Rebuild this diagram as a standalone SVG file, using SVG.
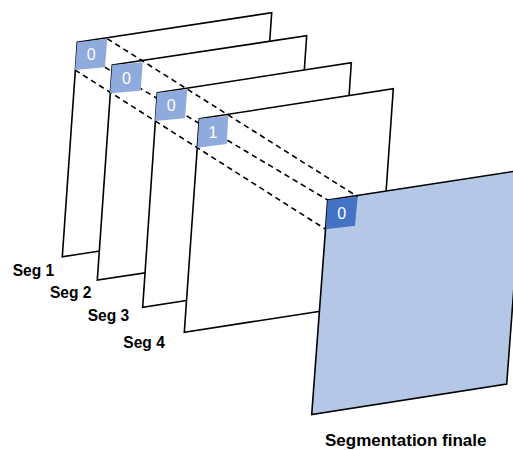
<svg xmlns="http://www.w3.org/2000/svg" width="513" height="450" viewBox="0 0 513 450">
<style>
.plane{fill:#ffffff;stroke:#000000;stroke-width:1.6;stroke-linejoin:miter}
.final{fill:#b4c7e7;stroke:#000000;stroke-width:1.6}
.cell{fill:#8faadc;stroke:none}
.cellf{fill:#4472c4;stroke:none}
.dash{fill:none;stroke:#000000;stroke-width:1.6;stroke-dasharray:5.5 4}
.lbl{font-family:"Liberation Sans",Arial,sans-serif;font-weight:bold;font-size:17px;fill:#000000}
.num{font-family:"Liberation Sans",Arial,sans-serif;font-size:16px;fill:#ffffff;text-anchor:middle}
</style>
<rect width="513" height="450" fill="#ffffff"/>
<g id="seg1">
<polygon class="plane" points="77.3,42.3 271.7,12.7 256.7,227.1 62.3,256.7"/>
<text class="lbl" x="12.7" y="276" textLength="41.5" lengthAdjust="spacingAndGlyphs">Seg 1</text>
</g>
<g id="seg2">
<polygon class="plane" points="112.3,65 306.7,35.7 291.7,250.7 97.3,280"/>
<text class="lbl" x="50" y="297.5" textLength="41.5" lengthAdjust="spacingAndGlyphs">Seg 2</text>
</g>
<g id="seg3">
<polygon class="plane" points="157.3,92.7 351.3,62.7 336.7,277.3 142.7,307.3"/>
<text class="lbl" x="87.7" y="321" textLength="41.5" lengthAdjust="spacingAndGlyphs">Seg 3</text>
</g>
<g id="seg4">
<polygon class="plane" points="199.3,118.8 393.3,88.7 378.3,302.2 184.3,332.3"/>
<text class="lbl" x="123.3" y="347.5" textLength="41.5" lengthAdjust="spacingAndGlyphs">Seg 4</text>
</g>
<g id="final">
<polygon class="final" points="327.7,200 522.7,170 506.7,384 311.7,414.5"/>
<text class="lbl" x="325" y="445.5" textLength="161.5" lengthAdjust="spacingAndGlyphs">Segmentation finale</text>
</g>
<g id="connectors">
<line class="dash" x1="107.3" y1="38.7" x2="357.7" y2="196.7"/>
<line class="dash" x1="105" y1="67.3" x2="327.7" y2="200"/>
<line class="dash" x1="75" y1="70" x2="325.7" y2="229.3"/>
</g>
<g id="cell1">
<polygon class="cell" points="77.3,42.3 107.3,38.7 105,67.3 75,70"/>
<text class="num" x="91.2" y="60.4">0</text>
</g>
<g id="cell2">
<polygon class="cell" points="112.3,65 142.7,62.3 140.7,90.7 110,93.3"/>
<text class="num" x="126.4" y="83.6">0</text>
</g>
<g id="cell3">
<polygon class="cell" points="157.3,92.7 187.3,89.3 185,118.3 155,121"/>
<text class="num" x="171.2" y="111.1">0</text>
</g>
<g id="cell4">
<polygon class="cell" points="199.3,118.8 228.3,115.7 226.7,144 197.3,147.7"/>
<text class="num" x="212.9" y="137.5">1</text>
</g>
<g id="cellfinal">
<polygon class="cellf" points="327.7,200 357.7,196.7 355,225.7 325.7,229.3"/>
<text class="num" x="341.6" y="218.7">0</text>
</g>
</svg>
